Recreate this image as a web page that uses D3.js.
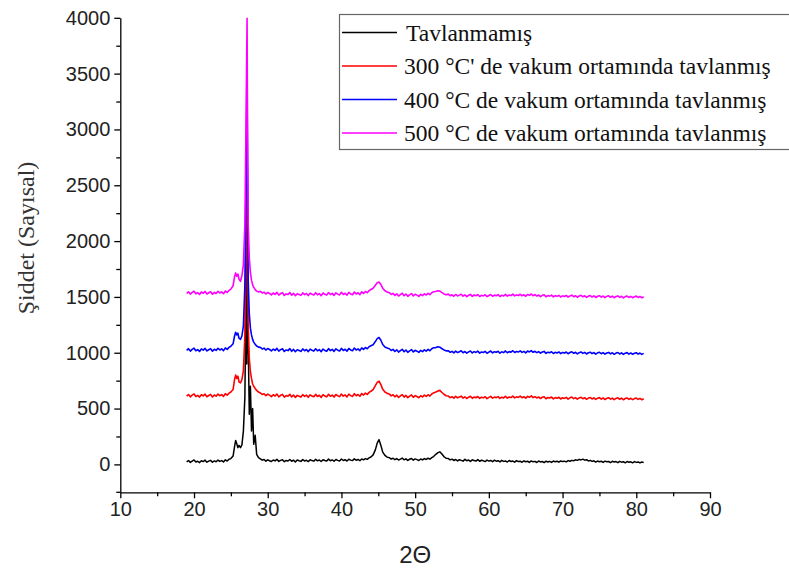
<!DOCTYPE html>
<html>
<head>
<meta charset="utf-8">
<script src="https://cdn.jsdelivr.net/npm/d3@7"></script>
<style>
  body { margin: 0; background: #fff; }
  svg { display: block; }
</style>
</head>
<body>
<svg id="chart" width="789" height="571"></svg>
<script>
// 2θ sampling positions (degrees), shared by all four scans
const twoTheta = [
  19, 19.25, 19.5, 19.75, 20, 20.25, 20.5, 20.75, 21, 21.25, 21.5, 21.75, 22, 22.25, 22.5, 22.75, 23, 23.25, 23.5, 23.75, 24, 24.25, 24.5, 24.75, 25,
  25.3, 25.5, 25.65, 25.8, 25.95, 26.1, 26.3, 26.5, 26.7, 26.9, 27.05, 27.15, 27.2, 27.25, 27.35, 27.5, 27.65, 27.8, 27.95, 28.1, 28.3, 28.5, 28.75,
  29, 29.25, 29.5, 29.75, 30, 30.25, 30.5, 30.75, 31, 31.25, 31.5, 31.75, 32, 32.25, 32.5, 32.75, 33, 33.25, 33.5, 33.75,
  34, 34.25, 34.5, 34.75, 35, 35.25, 35.5, 35.75, 36, 36.25, 36.5, 36.75, 37, 37.25, 37.5, 37.75, 38, 38.25, 38.5, 38.75,
  39, 39.25, 39.5, 39.75, 40, 40.25, 40.5, 40.75, 41, 41.25, 41.5, 41.75, 42, 42.25, 42.5, 42.75, 43, 43.25, 43.5, 43.75, 44,
  44.3, 44.6, 44.85, 45.1, 45.35, 45.6, 45.9, 46.2,
  46.5, 46.75, 47, 47.25, 47.5, 47.75, 48, 48.25, 48.5, 48.75, 49, 49.25, 49.5, 49.75, 50, 50.25, 50.5, 50.75, 51, 51.25, 51.5, 51.75, 52, 52.25, 52.5,
  52.8, 53.1, 53.35, 53.6, 53.9, 54.2,
  54.5, 54.75, 55, 55.25, 55.5, 55.75, 56, 56.25, 56.5, 56.75, 57, 57.25, 57.5, 57.75, 58, 58.25, 58.5, 58.75, 59, 59.25,
  59.5, 59.75, 60, 60.25, 60.5, 60.75, 61, 61.25, 61.5, 61.75, 62, 62.25, 62.5, 62.75, 63, 63.25, 63.5, 63.75, 64, 64.25,
  64.5, 64.75, 65, 65.25, 65.5, 65.75, 66, 66.25, 66.5, 66.75, 67, 67.25, 67.5, 67.75, 68, 68.25, 68.5, 68.75, 69, 69.25,
  69.5, 69.75, 70, 70.25, 70.5, 70.75, 71, 71.25, 71.5, 71.75, 72, 72.25, 72.5, 72.75, 73, 73.25, 73.5, 73.75, 74, 74.25,
  74.5, 74.75, 75, 75.25, 75.5, 75.75, 76, 76.25, 76.5, 76.75, 77, 77.25, 77.5, 77.75, 78, 78.25, 78.5, 78.75, 79, 79.25,
  79.5, 79.75, 80, 80.25, 80.5, 80.75, 81
];

// Intensity (counts), as-deposited film
const tavlanmamis = [
  22, 35, 18, 30, 40, 21, 28, 16, 33, 25, 38, 20, 29, 36, 19, 31, 24, 39, 27, 34, 22, 41, 30, 46, 52,
  75, 160, 215, 185, 150, 170, 150, 175, 300, 600, 1500, 900, 2600, 1000, 1100, 450, 700, 300, 500, 180, 260, 90, 60,
  50, 38, 44, 29, 41, 33, 26, 39, 31, 45, 27, 36, 42, 24, 35, 30, 44, 28, 38, 22,
  40, 33, 27, 43, 31, 37, 25, 41, 34, 29, 46, 32, 39, 26, 42, 35, 30, 47, 33, 40,
  28, 44, 36, 31, 48, 35, 42, 30, 46, 38, 34, 50, 37, 44, 33, 49, 41, 52, 45, 58, 66,
  85, 130, 190, 222, 170, 110, 80, 65,
  60, 48, 55, 42, 52, 39, 47, 56, 41, 50, 36, 46, 53, 38, 49, 43, 35, 48, 40, 52, 44, 55, 47, 60, 70,
  90, 105, 112, 95, 70, 55,
  52, 40, 47, 35, 44, 31, 42, 36, 29, 45, 33, 39, 27, 41, 34, 30, 43, 28, 37, 32,
  25, 39, 30, 35, 24, 38, 29, 33, 22, 36, 27, 31, 21, 35, 26, 30, 20, 34, 25, 29,
  19, 32, 24, 28, 18, 31, 23, 27, 17, 30, 22, 26, 16, 29, 21, 27, 18, 30, 23, 28,
  20, 31, 25, 29, 22, 34, 28, 36, 33, 41, 36, 45, 40, 47, 38, 42, 31, 36, 27, 32,
  21, 30, 24, 28, 18, 29, 23, 26, 16, 28, 21, 25, 15, 27, 20, 24, 14, 26, 19, 23,
  14, 25, 18, 22, 13, 21, 17
];

// Annealed in vacuum at 300 °C
const tavlanmis300 = [
  612, 626, 605, 620, 631, 608, 618, 603, 624, 613, 629, 606, 617, 627, 604, 621, 611, 630, 615, 625, 609, 633, 620, 638, 648,
  670, 760, 800, 770, 790, 740, 730, 760, 840, 1150, 1900, 2900, 3400, 2300, 1250, 950, 830, 770, 720, 700, 680, 662, 648,
  640, 626, 633, 615, 629, 620, 607, 624, 612, 630, 605, 619, 627, 602, 616, 610, 628, 604, 621, 600,
  618, 611, 603, 625, 609, 620, 601, 623, 613, 606, 627, 608, 619, 600, 624, 612, 605, 628, 610, 621,
  603, 626, 614, 607, 630, 611, 622, 605, 629, 616, 609, 633, 615, 626, 610, 635, 621, 638, 627, 645, 655,
  670, 705, 735, 745, 715, 672, 648, 636,
  630, 614, 624, 605, 620, 600, 613, 625, 603, 618, 598, 611, 622, 601, 616, 608, 597, 615, 604, 620, 609, 624, 612, 630, 640,
  648, 658, 663, 646, 628, 615,
  612, 598, 606, 593, 609, 596, 603, 611, 594, 605, 590, 602, 610, 592, 604, 597, 608, 591, 601, 596,
  606, 589, 600, 609, 593, 603, 598, 607, 591, 602, 595, 610, 594, 604, 599, 612, 596, 605, 600, 611,
  597, 606, 593, 609, 601, 614, 598, 607, 595, 604, 590, 601, 606, 588, 599, 594, 603, 587, 598, 592,
  601, 586, 597, 591, 600, 585, 596, 603, 589, 598, 584, 595, 601, 588, 597, 583, 594, 599, 586, 596,
  582, 593, 598, 585, 595, 581, 592, 597, 584, 594, 580, 591, 596, 583, 593, 579, 590, 595, 582, 592,
  580, 589, 594, 582, 591, 579, 588
];

// Annealed in vacuum at 400 °C
const tavlanmis400 = [
  1022, 1036, 1015, 1030, 1041, 1018, 1028, 1012, 1034, 1023, 1039, 1016, 1027, 1037, 1014, 1031, 1021, 1040, 1025, 1035, 1019, 1043, 1030, 1048, 1058,
  1080, 1150, 1183, 1160, 1175, 1130, 1120, 1150, 1240, 1600, 2500, 3300, 3730, 2700, 1650, 1350, 1220, 1160, 1120, 1095, 1075, 1060, 1050,
  1048, 1034, 1041, 1024, 1038, 1029, 1016, 1033, 1021, 1039, 1014, 1028, 1036, 1011, 1025, 1019, 1037, 1013, 1030, 1009,
  1027, 1020, 1012, 1034, 1018, 1029, 1010, 1032, 1022, 1015, 1036, 1017, 1028, 1009, 1033, 1021, 1014, 1037, 1019, 1030,
  1012, 1035, 1023, 1016, 1039, 1020, 1031, 1014, 1038, 1025, 1018, 1042, 1024, 1035, 1019, 1044, 1030, 1047, 1036, 1054, 1062,
  1072, 1100, 1126, 1136, 1112, 1074, 1052, 1042,
  1036, 1020, 1030, 1011, 1026, 1006, 1019, 1031, 1009, 1024, 1004, 1017, 1028, 1007, 1022, 1014, 1003, 1021, 1010, 1026, 1015, 1030, 1018, 1036, 1044,
  1046, 1054, 1050, 1038, 1025, 1017,
  1018, 1004, 1012, 999, 1015, 1002, 1009, 1017, 1000, 1011, 996, 1008, 1016, 998, 1010, 1003, 1014, 997, 1007, 1002,
  1012, 995, 1006, 1015, 999, 1009, 1004, 1013, 997, 1008, 1001, 1016, 1000, 1010, 1005, 1018, 1002, 1011, 1006, 1017,
  1003, 1012, 999, 1015, 1007, 1019, 1004, 1013, 1001, 1010, 996, 1007, 1012, 994, 1005, 1000, 1009, 993, 1004, 998,
  1007, 992, 1003, 997, 1006, 991, 1002, 1009, 995, 1004, 990, 1001, 1007, 994, 1003, 989, 1000, 1005, 992, 1002,
  988, 999, 1004, 991, 1001, 987, 998, 1003, 990, 1000, 986, 997, 1002, 989, 999, 985, 996, 1001, 988, 998,
  986, 995, 1000, 988, 997, 985, 994
];

// Annealed in vacuum at 500 °C
const tavlanmis500 = [
  1532, 1546, 1525, 1540, 1551, 1528, 1538, 1522, 1544, 1533, 1549, 1526, 1537, 1547, 1524, 1541, 1531, 1550, 1535, 1545, 1529, 1553, 1540, 1558, 1570,
  1600, 1680, 1715, 1685, 1705, 1660, 1640, 1690, 1790, 2150, 3000, 3700, 3995, 3100, 2150, 1850, 1720, 1650, 1610, 1585, 1565, 1552, 1545,
  1550, 1536, 1543, 1526, 1540, 1531, 1518, 1535, 1523, 1541, 1516, 1530, 1538, 1513, 1527, 1521, 1539, 1515, 1532, 1511,
  1529, 1522, 1514, 1536, 1520, 1531, 1512, 1534, 1524, 1517, 1538, 1519, 1530, 1511, 1535, 1523, 1516, 1539, 1521, 1532,
  1514, 1537, 1525, 1518, 1541, 1522, 1533, 1516, 1540, 1527, 1520, 1544, 1526, 1537, 1521, 1546, 1532, 1549, 1538, 1556, 1566,
  1578, 1604, 1626, 1633, 1612, 1578, 1555, 1544,
  1538, 1522, 1532, 1513, 1528, 1508, 1521, 1533, 1511, 1526, 1506, 1519, 1530, 1509, 1524, 1516, 1505, 1523, 1512, 1528, 1517, 1532, 1520, 1538, 1546,
  1548, 1556, 1552, 1540, 1527, 1519,
  1525, 1511, 1519, 1506, 1522, 1509, 1516, 1524, 1507, 1518, 1503, 1515, 1523, 1505, 1517, 1510, 1521, 1504, 1514, 1509,
  1519, 1502, 1513, 1522, 1506, 1516, 1511, 1520, 1504, 1515, 1508, 1523, 1507, 1517, 1512, 1525, 1509, 1518, 1513, 1524,
  1510, 1519, 1506, 1522, 1514, 1526, 1511, 1520, 1508, 1517, 1503, 1514, 1519, 1501, 1512, 1507, 1516, 1500, 1511, 1505,
  1514, 1499, 1510, 1504, 1513, 1498, 1509, 1516, 1502, 1511, 1497, 1508, 1514, 1501, 1510, 1496, 1507, 1512, 1499, 1509,
  1495, 1506, 1511, 1498, 1508, 1494, 1505, 1510, 1497, 1507, 1493, 1504, 1509, 1496, 1506, 1492, 1503, 1508, 1495, 1505,
  1493, 1502, 1507, 1495, 1504, 1492, 1501
];

const seriesLabels = [
  "Tavlanmamış",
  "300 °C' de vakum ortamında tavlanmış",
  "400 °C de vakum ortamında tavlanmış",
  "500 °C de vakum ortamında tavlanmış"
];
const seriesColors = ["#000000", "#ff0000", "#0000ff", "#ff00ff"];
const seriesValues = [tavlanmamis, tavlanmis300, tavlanmis400, tavlanmis500];

const xTickValues = [10, 20, 30, 40, 50, 60, 70, 80, 90];
const xMinorTicks = [15, 25, 35, 45, 55, 65, 75, 85];
const yTickValues = [0, 500, 1000, 1500, 2000, 2500, 3000, 3500, 4000];
const yMinorTicks = [250, 750, 1250, 1750, 2250, 2750, 3250, 3750];

const svg = d3.select("#chart");

const x = d3.scaleLinear().domain([10, 90]).range([120.3, 710]);
const y = d3.scaleLinear().domain([-250, 4000]).range([492.3, 17.8]);

const tickFont = "'Liberation Sans', Arial, sans-serif";
const serifFont = "'Liberation Serif', 'Times New Roman', serif";

// curves: as-deposited first, hottest anneal drawn on top
const line = d3.line().x(d => x(d[0])).y(d => y(d[1]));
seriesValues.forEach((vals, i) => {
  const n = Math.min(twoTheta.length, vals.length);
  const pts = twoTheta.slice(0, n).map((t, k) => [t, vals[k]]);
  svg.append("path")
    .datum(pts)
    .attr("fill", "none")
    .attr("stroke", seriesColors[i])
    .attr("stroke-width", i === 0 ? 1.5 : 1.6)
    .attr("stroke-linejoin", "round")
    .attr("d", line);
});

// axes
const axisY0 = y(-250);
const xAxis = svg.append("g").attr("transform", `translate(0,${axisY0})`)
  .call(d3.axisBottom(x).tickValues(xTickValues).tickFormat(d3.format("d")).tickSize(6).tickSizeOuter(0).tickPadding(4));
svg.append("g").attr("transform", `translate(0,${axisY0})`)
  .call(d3.axisBottom(x).tickValues(xMinorTicks).tickFormat("").tickSize(4).tickSizeOuter(0))
  .select(".domain").remove();

const yAxis = svg.append("g").attr("transform", `translate(${x(10)},0)`)
  .call(d3.axisLeft(y).tickValues(yTickValues).tickFormat(d3.format("d")).tickSize(6).tickSizeOuter(0).tickPadding(4));
svg.append("g").attr("transform", `translate(${x(10)},0)`)
  .call(d3.axisLeft(y).tickValues(yMinorTicks).tickFormat("").tickSize(4).tickSizeOuter(0))
  .select(".domain").remove();

svg.selectAll(".domain, .tick line").attr("stroke", "#000").attr("stroke-width", 1.3);
xAxis.selectAll("text").attr("font-family", tickFont).attr("font-size", 20).attr("fill", "#222");
yAxis.selectAll("text").attr("font-family", tickFont).attr("font-size", 20).attr("fill", "#222");

// small overhang of the x axis left of the y axis
svg.append("line")
  .attr("x1", x(10) - 4).attr("x2", x(10))
  .attr("y1", axisY0).attr("y2", axisY0)
  .attr("stroke", "#000").attr("stroke-width", 1.3);

// axis titles
svg.append("text")
  .attr("x", (x(10) + x(90)) / 2).attr("y", 563)
  .attr("text-anchor", "middle")
  .attr("font-family", tickFont).attr("font-size", 24).attr("fill", "#222")
  .text("2Θ");

svg.append("text")
  .attr("transform", "translate(34,238) rotate(-90)")
  .attr("text-anchor", "middle")
  .attr("font-family", serifFont).attr("font-size", 24).attr("fill", "#333")
  .text("Şiddet (Sayısal)");

// legend
const legend = svg.append("g");
legend.append("rect")
  .attr("x", 339.5).attr("y", 14.5).attr("width", 480).attr("height", 135)
  .attr("fill", "#fff").attr("stroke", "#666").attr("stroke-width", 1.2);
seriesLabels.forEach((label, i) => {
  const cy = 32.5 + i * 33.5;
  legend.append("line")
    .attr("x1", 342).attr("x2", 397).attr("y1", cy).attr("y2", cy)
    .attr("stroke", seriesColors[i]).attr("stroke-width", 1.4);
  legend.append("text")
    .attr("x", i === 0 ? 406 : 404).attr("y", cy + 8)
    .attr("font-family", serifFont).attr("font-size", 23.5).attr("fill", "#111")
    .text(label);
});
</script>
</body>
</html>
